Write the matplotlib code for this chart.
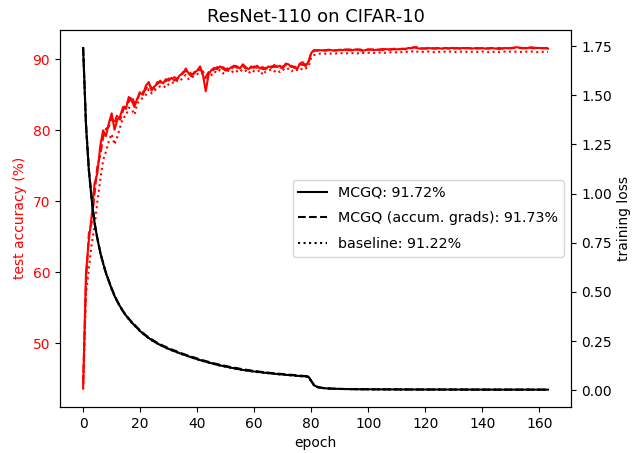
import matplotlib
matplotlib.use('Agg')
import matplotlib.pyplot as plt
import numpy as np

epochs = np.arange(164)

# test accuracy (%)
acc_mcgq = [
    43.8, 60.0, 64.5, 68.0, 72.5, 74.0, 77.8, 80.0, 79.2, 81.0,
    82.4, 80.1, 81.5, 82.0, 83.3, 83.0, 84.7, 84.2, 83.3, 84.5,
    85.3, 85.0, 86.3, 86.8, 85.6, 86.2, 86.5, 87.0, 86.6, 87.2,
    87.0, 87.4, 87.0, 87.3, 87.8, 88.0, 88.7, 88.0, 87.6, 88.2,
    88.4, 89.0, 87.8, 85.5, 87.9, 88.5, 88.8, 88.6, 89.0, 88.7,
    88.4, 88.6, 88.9, 89.1, 89.0, 88.7, 89.3, 88.9, 88.6, 89.0,
    88.8, 89.1, 88.7, 88.9, 88.6, 89.0, 88.8, 89.2, 88.9, 89.1,
    88.7, 89.4, 89.3, 88.9, 89.0, 88.6, 89.4, 89.6, 89.0, 89.7,
    90.9, 91.3, 91.2, 91.3, 91.25, 91.3, 91.35, 91.3, 91.2, 91.3,
    91.35, 91.3, 91.4, 91.3, 91.25, 91.35, 91.4, 91.3, 91.2, 91.3,
    91.35, 91.4, 91.3, 91.35, 91.4, 91.3, 91.45, 91.4, 91.35, 91.5,
    91.4, 91.45, 91.5, 91.4, 91.6, 91.55, 91.72, 91.6, 91.5, 91.55,
    91.5, 91.6, 91.55, 91.5, 91.6, 91.55, 91.5, 91.6, 91.55, 91.6,
    91.6, 91.55, 91.5, 91.6, 91.55, 91.6, 91.5, 91.55, 91.6, 91.55,
    91.6, 91.5, 91.55, 91.6, 91.55, 91.5, 91.45, 91.55, 91.6, 91.55,
    91.6, 91.65, 91.7, 91.65, 91.6, 91.55, 91.6, 91.7, 91.65, 91.6,
    91.6, 91.55, 91.6, 91.5]
acc_accum = [
    44.5, 58.5, 65.5, 67.0, 71.0, 75.0, 76.5, 79.0, 80.2, 80.5,
    81.8, 81.0, 82.3, 81.5, 82.8, 83.8, 84.0, 84.8, 83.8, 84.2,
    85.6, 85.4, 85.8, 86.5, 86.0, 85.9, 86.8, 86.7, 87.0, 86.9,
    87.3, 87.1, 87.5, 87.2, 87.6, 88.2, 88.3, 88.4, 87.9, 88.0,
    88.6, 88.5, 88.3, 87.5, 88.2, 88.3, 88.6, 88.9, 88.7, 88.9,
    88.6, 88.8, 88.7, 89.0, 88.8, 89.0, 89.1, 88.7, 88.9, 88.8,
    89.0, 88.8, 89.0, 88.6, 88.8, 88.9, 89.0, 88.9, 89.1, 88.8,
    89.0, 89.2, 89.0, 89.1, 88.8, 89.0, 89.3, 89.2, 89.3, 89.4,
    91.0, 91.2, 91.3, 91.25, 91.3, 91.2, 91.3, 91.35, 91.3, 91.25,
    91.3, 91.35, 91.3, 91.4, 91.35, 91.3, 91.35, 91.4, 91.3, 91.35,
    91.4, 91.35, 91.4, 91.3, 91.35, 91.45, 91.4, 91.35, 91.45, 91.4,
    91.5, 91.4, 91.45, 91.5, 91.55, 91.6, 91.65, 91.73, 91.6, 91.5,
    91.55, 91.5, 91.6, 91.55, 91.5, 91.6, 91.55, 91.6, 91.5, 91.55,
    91.5, 91.6, 91.55, 91.5, 91.6, 91.55, 91.6, 91.6, 91.5, 91.55,
    91.55, 91.6, 91.5, 91.55, 91.6, 91.55, 91.6, 91.5, 91.55, 91.6,
    91.55, 91.6, 91.65, 91.6, 91.55, 91.6, 91.65, 91.6, 91.55, 91.6,
    91.55, 91.6, 91.55, 91.6]
acc_base = [
    43.5, 57.0, 60.5, 64.0, 66.5, 70.0, 73.0, 75.8, 77.0, 78.5,
    79.5, 78.0, 79.1, 80.5, 81.8, 82.0, 83.2, 83.0, 82.2, 83.8,
    84.3, 84.6, 85.0, 85.8, 85.2, 85.6, 86.0, 86.2, 86.3, 86.0,
    86.5, 86.8, 86.6, 87.0, 86.9, 87.5, 87.8, 87.2, 87.5, 87.6,
    87.9, 88.2, 87.9, 87.0, 87.6, 87.8, 88.3, 88.1, 88.5, 88.0,
    88.2, 88.4, 88.1, 88.5, 88.3, 88.6, 88.2, 88.4, 88.0, 88.5,
    88.3, 88.2, 88.5, 87.8, 88.3, 88.4, 88.6, 88.3, 88.5, 88.2,
    88.6, 88.4, 88.7, 88.3, 88.6, 88.5, 88.8, 88.5, 88.7, 88.9,
    90.3, 90.6, 90.7, 90.8, 90.75, 90.8, 90.85, 90.8, 90.75, 90.85,
    90.9, 90.85, 90.8, 90.9, 90.85, 90.9, 90.8, 90.95, 90.9, 90.85,
    90.9, 90.95, 90.9, 90.85, 90.95, 91.0, 90.9, 90.95, 91.0, 90.95,
    91.0, 90.95, 91.05, 91.0, 91.1, 91.05, 91.22, 91.1, 91.0, 91.05,
    91.0, 91.1, 91.05, 91.0, 91.1, 91.05, 91.0, 91.1, 91.05, 91.1,
    91.05, 91.0, 91.1, 91.05, 91.1, 91.0, 91.05, 91.1, 91.05, 91.0,
    91.1, 91.05, 91.0, 91.1, 91.05, 91.1, 91.0, 91.05, 91.1, 91.05,
    91.1, 91.05, 91.1, 91.05, 91.0, 91.1, 91.05, 91.1, 91.05, 91.0,
    91.1, 91.05, 91.1, 91.05]

# training loss
loss_mcgq = [
    1.740, 1.350, 1.120, 0.970, 0.850, 0.770, 0.700, 0.645, 0.595, 0.555,
    0.515, 0.480, 0.450, 0.425, 0.400, 0.380, 0.362, 0.345, 0.330, 0.315,
    0.300, 0.288, 0.276, 0.265, 0.255, 0.246, 0.238, 0.230, 0.223, 0.216,
    0.210, 0.204, 0.198, 0.193, 0.187, 0.182, 0.177, 0.172, 0.167, 0.162,
    0.158, 0.153, 0.149, 0.145, 0.141, 0.137, 0.133, 0.129, 0.126, 0.123,
    0.120, 0.117, 0.114, 0.111, 0.108, 0.106, 0.103, 0.101, 0.099, 0.097,
    0.095, 0.093, 0.092, 0.090, 0.088, 0.087, 0.085, 0.084, 0.082, 0.081,
    0.080, 0.078, 0.077, 0.076, 0.075, 0.073, 0.072, 0.071, 0.070, 0.069,
    0.045, 0.025, 0.017, 0.013, 0.011, 0.0095, 0.0085, 0.0078, 0.0072, 0.0067,
    0.0063, 0.0060, 0.0057, 0.0055, 0.0053, 0.0051, 0.0050, 0.0048, 0.0047, 0.0046,
    0.0045, 0.0044, 0.0043, 0.0042, 0.0041, 0.0041, 0.0040, 0.0039, 0.0039, 0.0038,
    0.0038, 0.0037, 0.0037, 0.0036, 0.0036, 0.0035, 0.0035, 0.0035, 0.0034, 0.0034,
    0.0034, 0.0033, 0.0033, 0.0033, 0.0032, 0.0032, 0.0032, 0.0032, 0.0031, 0.0031,
    0.0031, 0.0031, 0.0030, 0.0030, 0.0030, 0.0030, 0.0030, 0.0029, 0.0029, 0.0029,
    0.0029, 0.0029, 0.0028, 0.0028, 0.0028, 0.0028, 0.0028, 0.0028, 0.0027, 0.0027,
    0.0027, 0.0027, 0.0027, 0.0027, 0.0027, 0.0026, 0.0026, 0.0026, 0.0026, 0.0026,
    0.0026, 0.0026, 0.0026, 0.0026]
loss_accum = [
    1.745, 1.355, 1.125, 0.975, 0.855, 0.772, 0.703, 0.648, 0.598, 0.557,
    0.518, 0.483, 0.452, 0.427, 0.402, 0.383, 0.364, 0.348, 0.333, 0.318,
    0.304, 0.291, 0.279, 0.268, 0.259, 0.250, 0.241, 0.234, 0.226, 0.220,
    0.213, 0.207, 0.202, 0.196, 0.191, 0.185, 0.180, 0.175, 0.170, 0.166,
    0.161, 0.157, 0.152, 0.148, 0.144, 0.140, 0.136, 0.133, 0.129, 0.126,
    0.123, 0.120, 0.117, 0.114, 0.112, 0.109, 0.106, 0.104, 0.102, 0.100,
    0.098, 0.096, 0.094, 0.092, 0.091, 0.089, 0.087, 0.086, 0.085, 0.083,
    0.082, 0.080, 0.079, 0.078, 0.077, 0.076, 0.074, 0.073, 0.072, 0.071,
    0.047, 0.026, 0.018, 0.014, 0.0115, 0.0098, 0.0088, 0.0080, 0.0074, 0.0069,
    0.0065, 0.0061, 0.0058, 0.0056, 0.0054, 0.0052, 0.0050, 0.0049, 0.0048, 0.0047,
    0.0046, 0.0045, 0.0044, 0.0043, 0.0042, 0.0041, 0.0041, 0.0040, 0.0039, 0.0039,
    0.0038, 0.0038, 0.0037, 0.0037, 0.0036, 0.0036, 0.0035, 0.0035, 0.0035, 0.0034,
    0.0034, 0.0034, 0.0033, 0.0033, 0.0033, 0.0032, 0.0032, 0.0032, 0.0032, 0.0031,
    0.0031, 0.0031, 0.0031, 0.0030, 0.0030, 0.0030, 0.0030, 0.0029, 0.0029, 0.0029,
    0.0029, 0.0029, 0.0028, 0.0028, 0.0028, 0.0028, 0.0028, 0.0028, 0.0027, 0.0027,
    0.0027, 0.0027, 0.0027, 0.0027, 0.0027, 0.0026, 0.0026, 0.0026, 0.0026, 0.0026,
    0.0026, 0.0026, 0.0026, 0.0026]
loss_base = [
    1.738, 1.345, 1.118, 0.968, 0.848, 0.768, 0.699, 0.644, 0.594, 0.554,
    0.514, 0.479, 0.449, 0.424, 0.399, 0.379, 0.361, 0.344, 0.329, 0.314,
    0.299, 0.287, 0.275, 0.264, 0.254, 0.245, 0.237, 0.229, 0.222, 0.215,
    0.209, 0.203, 0.197, 0.192, 0.186, 0.181, 0.176, 0.171, 0.166, 0.161,
    0.157, 0.152, 0.148, 0.144, 0.140, 0.136, 0.132, 0.128, 0.125, 0.122,
    0.119, 0.116, 0.113, 0.110, 0.107, 0.105, 0.102, 0.100, 0.098, 0.096,
    0.094, 0.092, 0.091, 0.089, 0.087, 0.086, 0.084, 0.083, 0.081, 0.080,
    0.079, 0.077, 0.076, 0.075, 0.074, 0.072, 0.071, 0.070, 0.069, 0.068,
    0.044, 0.024, 0.016, 0.0125, 0.0105, 0.0092, 0.0082, 0.0076, 0.0070, 0.0066,
    0.0062, 0.0059, 0.0056, 0.0054, 0.0052, 0.0050, 0.0049, 0.0047, 0.0046, 0.0045,
    0.0044, 0.0043, 0.0042, 0.0041, 0.0041, 0.0040, 0.0039, 0.0039, 0.0038, 0.0038,
    0.0037, 0.0037, 0.0036, 0.0036, 0.0035, 0.0035, 0.0035, 0.0034, 0.0034, 0.0034,
    0.0033, 0.0033, 0.0033, 0.0032, 0.0032, 0.0032, 0.0032, 0.0031, 0.0031, 0.0031,
    0.0031, 0.0030, 0.0030, 0.0030, 0.0030, 0.0030, 0.0029, 0.0029, 0.0029, 0.0029,
    0.0029, 0.0028, 0.0028, 0.0028, 0.0028, 0.0028, 0.0028, 0.0027, 0.0027, 0.0027,
    0.0027, 0.0027, 0.0027, 0.0027, 0.0026, 0.0026, 0.0026, 0.0026, 0.0026, 0.0026,
    0.0026, 0.0026, 0.0026, 0.0026]

labels = ['MCGQ: 91.72%', 'MCGQ (accum. grads): 91.73%', 'baseline: 91.22%']
styles = ['-', '--', ':']

fig, ax1 = plt.subplots(figsize=(6.44, 4.53), dpi=100)
ax2 = ax1.twinx()

for acc, ls in zip([acc_mcgq, acc_accum, acc_base], styles):
    ax1.plot(epochs, acc, color='r', linestyle=ls)
for loss, ls, lab in zip([loss_mcgq, loss_accum, loss_base], styles, labels):
    ax2.plot(epochs, loss, color='k', linestyle=ls, label=lab)

ax1.set_xlabel('epoch')
ax1.set_ylabel('test accuracy (%)', color='r')
ax1.tick_params(axis='y', labelcolor='r')
ax2.set_ylabel('training loss')
ax1.set_title('ResNet-110 on CIFAR-10', fontsize=13)
ax2.legend(loc='center right', fontsize=10.3, labelspacing=0.8)

plt.subplots_adjust(left=0.093, right=0.887, top=0.934, bottom=0.102)
plt.savefig('out.png')
